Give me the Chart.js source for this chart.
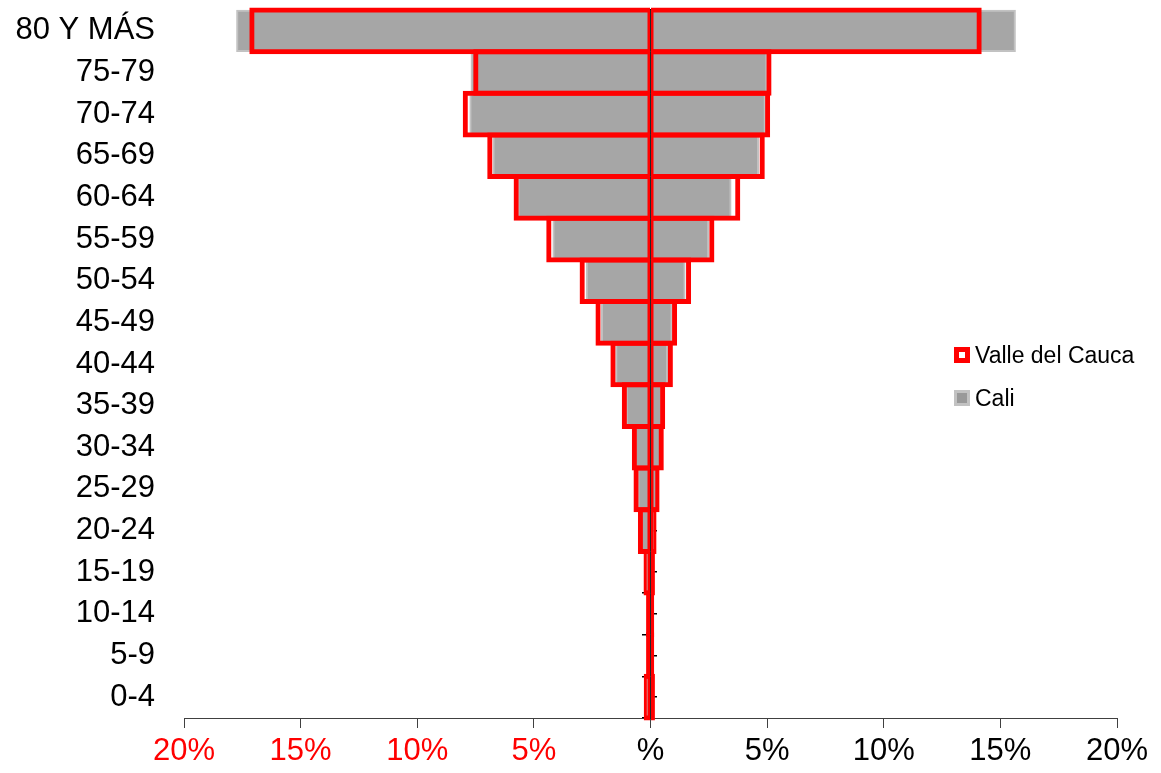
<!DOCTYPE html>
<html>
<head>
<meta charset="utf-8">
<script src="https://cdn.jsdelivr.net/npm/chart.js@4.4.1/dist/chart.umd.min.js"></script>
<style>
  html, body { margin: 0; padding: 0; background: #fff; }
  #wrap { position: relative; width: 1161px; height: 773px; }
  #legend {
    position: absolute; left: 954px; top: 334px;
    font-family: "Liberation Sans", Arial, sans-serif; font-size: 23px; color: #000;
  }
  #legend div { height: 43px; line-height: 43px; white-space: nowrap; }
  #legend span.m {
    display: inline-block; width: 16px; height: 16px; box-sizing: border-box;
    vertical-align: middle; margin-right: 5px; position: relative; top: -2px;
  }
</style>
</head>
<body>
<div id="wrap">
  <canvas id="piramide" width="1161" height="773"></canvas>
  <div id="legend"></div>
</div>
<script>
// grupos de edad (de arriba hacia abajo)
const grupos = ['80 Y MÁS', '75-79', '70-74', '65-69', '60-64', '55-59', '50-54', '45-49',
                '40-44', '35-39', '30-34', '25-29', '20-24', '15-19', '10-14', '5-9', '0-4'];

// Valle del Cauca (%)
const valleIzq = [17.2, 7.6, 8.05, 7.0, 5.87, 4.47, 3.04, 2.36, 1.72, 1.23, 0.8, 0.73, 0.54, 0.3, 0.19, 0.19, 0.29];
const valleDer = [14.2, 5.19, 5.13, 4.9, 3.85, 2.74, 1.74, 1.14, 0.96, 0.63, 0.57, 0.39, 0.26, 0.19, 0.16, 0.16, 0.19];

// Cali (%)
const caliIzq = [17.75, 7.7, 7.75, 6.76, 5.69, 4.19, 2.76, 2.11, 1.5, 1.05, 0.65, 0.55, 0.4, 0.2, 0.1, 0.08, 0.15];
const caliDer = [15.65, 5.0, 4.93, 4.64, 3.46, 2.5, 1.49, 0.93, 0.74, 0.5, 0.48, 0.33, 0.2, 0.15, 0.1, 0.08, 0.15];

// etiquetas del eje x (-20 .. 20)
const etiquetasX = ['20%', '15%', '10%', '5%', '%', '5%', '10%', '15%', '20%'];

const fuente = '"Liberation Sans", Arial, sans-serif';

const rojo = {
    label: 'Valle del Cauca',
    backgroundColor: 'rgba(0,0,0,0)',
    borderColor: '#ff0000',
    borderSkipped: false,
    barPercentage: 1.12,
    categoryPercentage: 1,
    grouped: false,
    clip: false
};
const gris = {
    label: 'Cali',
    backgroundColor: '#a6a6a6',
    borderColor: '#c2c2c2',
    borderWidth: 2,
    borderSkipped: false,
    barPercentage: 1,
    categoryPercentage: 1,
    grouped: false,
    clip: false
};

let grafico = new Chart(document.getElementById('piramide'), {
    type: 'bar',
    data: {
        labels: grupos,
        datasets: [
            Object.assign({}, rojo, { data: valleIzq.map(v => -v), borderWidth: { top: 5, bottom: 5, left: 5, right: 2.5 } }),
            Object.assign({}, rojo, { data: valleDer, borderWidth: { top: 5, bottom: 5, left: 2.5, right: 5 } }),
            Object.assign({}, gris, { data: caliIzq.map(v => -v) }),
            Object.assign({}, gris, { data: caliDer })
        ]
    },
    options: {
        indexAxis: 'y',
        responsive: false,
        animation: false,
        devicePixelRatio: 1,
        layout: { padding: { top: 10, right: 44, left: 0, bottom: 0 } },
        plugins: { legend: { display: false }, tooltip: { enabled: false } },
        scales: {
            x: {
                min: -20, max: 20,
                ticks: {
                    stepSize: 5,
                    padding: 5,
                    font: { family: fuente, size: 31 },
                    color: c => (c.tick && c.tick.value < 0 ? '#ff0000' : '#000000'),
                    callback: (v, i) => etiquetasX[i]
                },
                grid: { drawOnChartArea: false, tickLength: 10, color: '#404040', lineWidth: 1 },
                border: { color: '#404040', width: 1 },
                afterFit: s => { s.height = 55; }
            },
            y: {
                ticks: { padding: 29, color: '#000', font: { family: fuente, size: 31 } },
                grid: { display: false, drawTicks: false },
                border: { display: false },
                afterFit: s => { s.width = 184; s.paddingTop = 0; s.paddingBottom = 0; }
            },
            // eje central con marcas en el centro de cada grupo
            yc: {
                type: 'category', position: { x: 0 }, offset: true, z: 2,
                ticks: { display: false },
                grid: { drawOnChartArea: false, offset: false, tickLength: -7, color: '#000', lineWidth: 1.5 },
                border: { display: true, color: '#000', width: 2 }
            },
            // marcas en los límites de cada grupo
            yl: {
                type: 'category', position: { x: 0 }, offset: true, z: 2,
                ticks: { display: false },
                grid: { drawOnChartArea: false, offset: true, tickLength: 9, color: '#000', lineWidth: 1.5 },
                border: { display: false }
            }
        }
    }
});

// leyenda
let html = '';
html += '<div><span class="m" style="border:5px solid #ff0000;background:#fff"></span>' + grafico.data.datasets[0].label + '</div>';
html += '<div><span class="m" style="border:3px solid #c2c2c2;background:#999"></span>' + grafico.data.datasets[2].label + '</div>';
document.getElementById('legend').innerHTML = html;
</script>
</body>
</html>
